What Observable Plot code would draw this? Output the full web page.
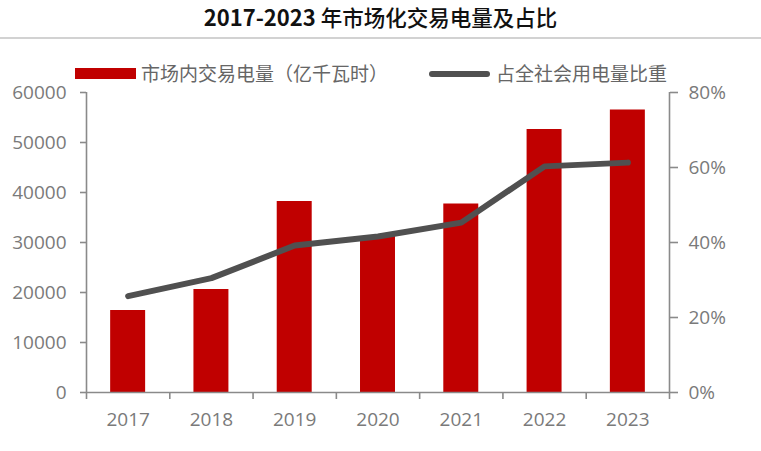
<!DOCTYPE html>
<html>
<head>
<meta charset="utf-8">
<script src="https://cdn.jsdelivr.net/npm/d3@7"></script>
<script src="https://cdn.jsdelivr.net/npm/@observablehq/plot@0.6"></script>
<style>
  body { margin: 0; background: #fff; }
  #wrap { position: relative; width: 761px; height: 451px; overflow: hidden; font-family: "Noto Sans CJK SC", "Noto Sans", sans-serif; }
  #title { position: absolute; left: 0; top: 0; width: 761px; height: 32px; line-height: 32px; text-align: center;
           font-family: "Liberation Sans Narrow", "Noto Sans CJK SC", sans-serif; font-size: 22px; color: #111; }
  #title .num { font-weight: bold; }
  #title .cjk { font-weight: 500; font-family: "Noto Sans CJK SC", sans-serif; font-size: 21.5px; }
  #sep { position: absolute; left: 0; top: 37px; width: 761px; height: 2px; background: #d2d2d2; }
  .leg { position: absolute; font-size: 19px; color: #666; line-height: 22px; white-space: nowrap; }
  #chart { position: absolute; left: 0; top: 40px; }
</style>
</head>
<body>
<div id="wrap">
  <div id="title"><span class="num">2017-2023</span> <span class="cjk">年市场化交易电量及占比</span></div>
  <div id="sep"></div>
  <div style="position:absolute;left:75px;top:68px;width:61px;height:11px;background:#C00000;"></div>
  <div class="leg" id="leg1" style="left:141px;top:62px;"></div>
  <div style="position:absolute;left:429px;top:71px;width:61px;height:6px;background:#505050;border-radius:3px;"></div>
  <div class="leg" id="leg2" style="left:496px;top:62px;"></div>
  <div id="chart"></div>
</div>
<script>
const seriesNames = ["市场内交易电量（亿千瓦时）", "占全社会用电量比重"];
const years = [2017, 2018, 2019, 2020, 2021, 2022, 2023];
const volume = [16400, 20600, 38200, 31200, 37700, 52600, 56500];
const share = [25.7, 30.5, 39.2, 41.6, 45.3, 60.3, 61.3];
const leftTicks = [0, 10000, 20000, 30000, 40000, 50000, 60000];
const rightTicks = [0, 20, 40, 60, 80];

document.getElementById("leg1").textContent = seriesNames[0];
document.getElementById("leg2").textContent = seriesNames[1];

const yMax = 60000, pMax = 80, k = yMax / pMax;
const data = years.map((y, i) => ({year: y, value: volume[i], share: share[i]}));
const bounds = [years[0] - 0.5, ...years.map(y => y + 0.5)];
const axisColor = "#8a8a8a";
const textColor = "#7a7a7a";
const half = 0.21;

const chart = Plot.plot({
  width: 761,
  height: 411,
  marginTop: 52,
  marginBottom: 59,
  marginLeft: 86,
  marginRight: 92,
  style: {fontFamily: "'Open Sans', 'Noto Sans', sans-serif", fontSize: "19px", color: textColor, background: "transparent", overflow: "visible"},
  x: {type: "linear", domain: [bounds[0], bounds[bounds.length - 1]]},
  y: {domain: [0, yMax]},
  marks: [
    Plot.rectY(data, {x1: d => d.year - half, x2: d => d.year + half, y: "value", fill: "#C00000"}),
    Plot.ruleY([0], {stroke: axisColor, strokeWidth: 1.6}),
    Plot.ruleX([bounds[0], bounds[bounds.length - 1]], {y1: 0, y2: yMax, stroke: axisColor, strokeWidth: 1.6}),
    Plot.line(data, {x: "year", y: d => d.share * k, stroke: "#505050", strokeWidth: 6, curve: "linear", strokeLinecap: "round", strokeLinejoin: "round"}),
    Plot.axisY({anchor: "left", label: null, ticks: leftTicks, tickSize: 6, tickPadding: 14, stroke: axisColor, strokeWidth: 1.6, fill: textColor, tickFormat: d => String(d)}),
    Plot.axisY({anchor: "right", label: null, ticks: rightTicks.map(p => p * k), tickSize: 8, tickPadding: 11, stroke: axisColor, strokeWidth: 1.6, fill: textColor, tickFormat: d => Math.round(d / k) + "%"}),
    Plot.axisX({anchor: "bottom", label: null, ticks: bounds, tickSize: 7, stroke: axisColor, strokeWidth: 1.6, tickFormat: () => ""}),
    Plot.axisX({anchor: "bottom", label: null, ticks: years, tickSize: 0, tickPadding: 20, fill: textColor, tickFormat: d => String(d)})
  ]
});
document.getElementById("chart").appendChild(chart);
</script>
</body>
</html>
